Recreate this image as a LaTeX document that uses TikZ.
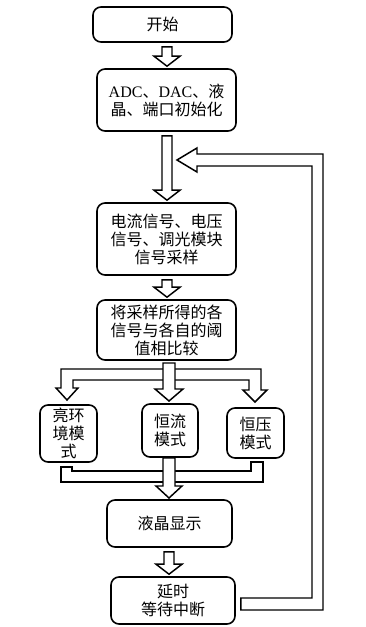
\documentclass[tikz,border=0pt]{standalone}
\usepackage{fontspec}
\setmainfont{Liberation Serif}
\newfontfamily\cjk{Noto Sans CJK SC}
\newfontfamily\latinfont{Liberation Serif}
\usetikzlibrary{calc}
\tikzset{
  box/.style={draw, line width=1.2pt, rounded corners=6pt, fill=white, align=center,
    inner sep=0pt, font=\cjk\fontsize{12}{13.5}\selectfont},
  hollow/.style={draw, line width=1.1pt, fill=white, line join=miter},
}
\newcommand\hollowdown[3]{%
  \draw[hollow] let \p0=(#1,0), \p1=(#2.south), \p2=(#3.north) in
  (\x0-3.75pt,\y1-3pt) -- (\x0-3.75pt,\y2+9pt) -- (\x0-9.75pt,\y2+9pt) --
  (\x0,\y2+1.5pt) -- (\x0+9.75pt,\y2+9pt) -- (\x0+3.75pt,\y2+9pt) --
  (\x0+3.75pt,\y1-3pt) -- cycle;}
\begin{document}
\begin{tikzpicture}[x=0.75pt, y=-0.75pt]
\useasboundingbox (0,0) rectangle (366,627);
% boxes
\node[box, minimum width=104.25pt, minimum height=26.25pt] (b1) at (162.5,24.5) {开始};
\node[box, minimum width=104.25pt, minimum height=46.5pt] (b2) at (166.5,100)
  {{\latinfont ADC}、{\latinfont DAC}、液\\晶、端口初始化};
\node[box, minimum width=104.25pt, minimum height=54pt] (b3) at (166.5,239)
  {电流信号、电压\\信号、调光模块\\信号采样};
\node[box, minimum width=104.25pt, minimum height=45pt] (b4) at (166.5,330)
  {将采样所得的各\\信号与各自的阈\\值相比较};
\node[box, minimum width=42.75pt, minimum height=42.75pt] (b5a) at (68.5,433.5)
  {亮环\\境模\\式};
\node[box, minimum width=42pt, minimum height=39.75pt] (b5b) at (170,430.5)
  {恒流\\模式};
\node[box, minimum width=42.75pt, minimum height=37.5pt] (b5c) at (255.5,433)
  {恒压\\模式};
\node[box, minimum width=93.75pt, minimum height=35.25pt] (b6) at (169.5,523.5) {液晶显示};
\node[box, minimum width=93pt, minimum height=35.25pt] (b7) at (173,600.5)
  {延时\\等待中断};
% simple hollow arrows
\hollowdown{167}{b1}{b2}
\hollowdown{167}{b2}{b3}
\hollowdown{167}{b3}{b4}
\hollowdown{169}{b6}{b7}
% split bar
\draw[hollow] (61,369) -- (261,369) -- (261,390) -- (267,390) -- (255,402) -- (243,390)
  -- (249,390) -- (249,380) -- (73,380) -- (73,388) -- (78,388) -- (67,400) -- (56,388)
  -- (61,388) -- cycle;
\draw[hollow] (163,363) -- (163,389) -- (155,389) -- (169,401) -- (183,389) -- (175,389)
  -- (175,363) -- cycle;
% merge bar
\draw[hollow] (61,467) -- (61,482) -- (263,482) -- (263,462) -- (251,462) -- (251,471)
  -- (72,471) -- (72,467) -- cycle;
\draw[hollow] (163,458) -- (163,486) -- (156,486) -- (169,498) -- (182,486) -- (175,486)
  -- (175,458) -- cycle;
% feedback
\draw[hollow] let \p1=(b7.east) in
  (\x1+3.75pt,598*-0.75pt) -- (312,598) -- (312,166) -- (197,166) -- (197,172)
  -- (177,160) -- (197,148) -- (197,154) -- (323,154) -- (323,610)
  -- (\x1+3.75pt,610*-0.75pt) -- cycle;
\end{tikzpicture}
\end{document}
